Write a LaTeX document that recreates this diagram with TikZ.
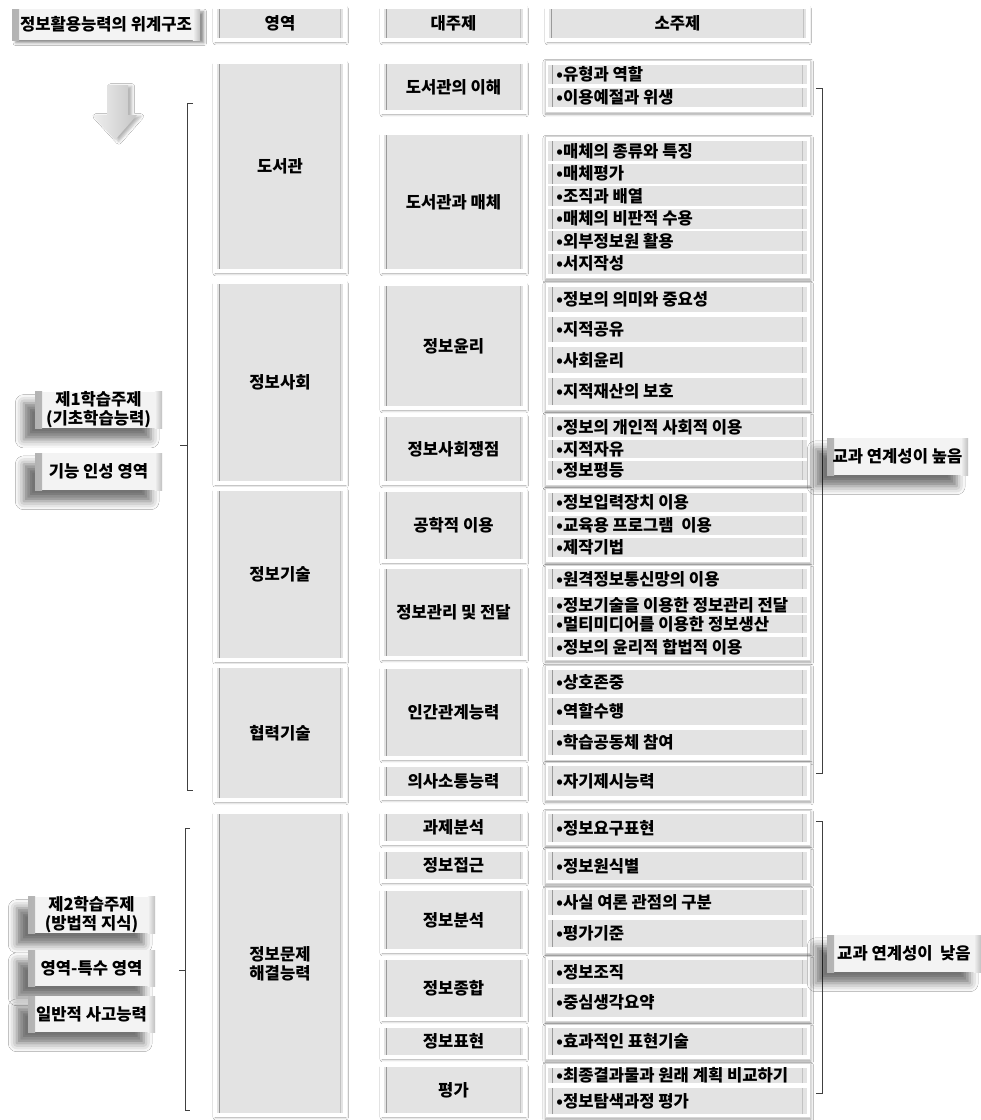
\documentclass[tikz,border=0pt]{standalone}
\usepackage{fontspec}
\setmainfont{Noto Sans CJK KR}
\usepackage{tikz}
\definecolor{boxgray}{HTML}{E3E3E3}
\definecolor{edgegray}{HTML}{9A9A9A}
\definecolor{framegray}{HTML}{D6D6D6}
\definecolor{btngray}{HTML}{F3F3F3}
\usetikzlibrary{shadows.blur}
\tikzset{
  label font/.style={font=\fontsize{11.8}{13.5}\selectfont\bfseries},
  span/.style n args={4}{at={({(#1+#3)/2},{(#2+#4)/2})}, minimum width={(#3-#1)*0.025cm}, minimum height={(#4-#2)*0.025cm}},
  bevel/.style={fill=boxgray, inner sep=0pt, label font,
    path picture={
      \draw[edgegray, line width=0.9pt] ([xshift=3pt]path picture bounding box.south west) -- ([xshift=3pt]path picture bounding box.north west);
      \draw[edgegray!60, line width=0.9pt] ([xshift=-3pt]path picture bounding box.south east) -- ([xshift=-3pt]path picture bounding box.north east);}},
  cell/.style={bevel, draw=framegray, double=white, double distance=2.6pt, line width=0.3pt,
    blur shadow={shadow xshift=0.5pt, shadow yshift=-1.5pt, shadow blur radius=2pt, shadow opacity=40}},
  group/.style={fill=white, draw=framegray, line width=0.3pt, inner sep=0pt,
    blur shadow={shadow xshift=0.5pt, shadow yshift=-1.5pt, shadow blur radius=2pt, shadow opacity=40}},
  item/.style={bevel},
  itemtext/.style={inner sep=0pt, label font},
  button/.style={fill=btngray, inner sep=0pt, label font,
    path picture={
      \shade[left color=gray!60, right color=btngray] (path picture bounding box.south west) rectangle ([xshift=5pt]path picture bounding box.north west);
      \shade[left color=btngray, right color=gray!50] ([xshift=-5pt]path picture bounding box.south east) rectangle (path picture bounding box.north east);}},
  lifted/.style={blur shadow={shadow xshift=-8pt, shadow yshift=-8pt, shadow blur radius=6pt, shadow opacity=55}},
  bracket/.style={draw=black!75, line width=0.6pt}
}

\begin{document}
\begin{tikzpicture}[x=0.025cm, y=-0.025cm]
    \path[use as bounding box, fill=white] (0,0) rectangle (981,1120);

    % Header row
    \node[button, blur shadow={shadow yshift=-2pt, shadow blur radius=2pt, shadow opacity=45}, span={12}{9}{200}{40}] (title) {정보활용능력의 위계구조};
    \node[cell, span={215}{7}{345}{40}] (hArea) {영역};
    \node[cell, span={382}{7}{525}{40}] (hTopic) {대주제};
    \node[cell, span={547}{7}{808}{40}] (hSub) {소주제};

    % Down arrow
    \shade[left color=gray!12, right color=gray!45, blur shadow={shadow yshift=-1pt, shadow blur radius=2pt, shadow opacity=30}]
        (107,85) -- (128,85) -- (128,115) -- (137,115) -- (115,140) -- (92,115) -- (107,115) -- cycle;

    % Area column
    \foreach \ya/\yb/\txt [count=\i] in {62/271/도서관, 282/483/정보사회, 489/660/정보기술, 666/800/협력기술}
        \node[cell, span={215}{\ya}{345}{\yb}] (area\i) {\txt};
    \node[cell, align=center, span={215}{812}{345}{1115}] (area5) {정보문제\\해결능력};

    % Main topic column
    \foreach \ya/\yb/\txt [count=\i] in {62/112/도서관의 이해, 133/271/도서관과 매체, 284/408/정보윤리, 415/483/정보사회쟁점,
        490/561/공학적 이용, 567/658/정보관리 및 전달, 667/758/인간관계능력, 765/798/의사소통능력,
        812/843/과제분석, 850/881/정보접근, 889/951/정보분석, 958/1019/정보종합, 1026/1057/정보표현, 1065/1115/평가}
        \node[cell, span={382}{\ya}{525}{\yb}] (topic\i) {\txt};

    % Sub topic frames
    \foreach \ya/\yb [count=\i] in {60/112, 136/278, 282/410, 413/485, 488/562, 565/660, 665/760, 762/800,
        810/845, 848/883, 887/953, 956/1021, 1024/1059, 1063/1117}
        \node[group, span={545}{\ya}{810}{\yb}] (grp\i) {};

    % Sub topic bars
    \foreach \ya/\yb/\txt [count=\i] in {65/84/•유형과 역할, 88/107/•이용예절과 위생,
        141/161/•매체의 종류와 특징, 163.5/183.5/•매체평가, 186/206/•조직과 배열, 208.5/228.5/•매체의 비판적 수용, 231/251/•외부정보원 활용, 253.5/273.5/•서지작성,
        287/312/•정보의 의미와 중요성, 317/342/•지적공유, 347/373/•사회윤리, 378/405/•지적재산의 보호,
        417/437/•정보의 개인적 사회적 이용, 440/458/•지적자유, 461/480/•정보평등,
        493/512/•정보입력장치 이용, 516/535/•교육용 프로그램~ 이용, 538/557/•제작기법,
        569/589/•원격정보통신망의 이용, 597/613/•정보기술을 이용한 정보관리 전달, 615/633/•멀티미디어를 이용한 정보생산, 637/657/•정보의 윤리적 합법적 이용,
        670/694/•상호존중, 698/725/•역할수행, 730/755/•학습공동체 참여,
        766/796/•자기제시능력,
        814/842/•정보요구표현, 852/880/•정보원식별,
        890/915/•사실 여론 관점의 구분, 920/947/•평가기준,
        960/984/•정보조직, 988/1017/•중심생각요약,
        1028/1055/•효과적인 표현기술,
        1068/1083/•최종결과물과 원래 계획 비교하기, 1088/1114/•정보탐색과정 평가}{
        \node[item, span={548}{\ya}{807}{\yb}] (sub\i) {};
        \node[itemtext, anchor=west] (subtxt\i) at ([xshift=6pt]sub\i.west) {\txt};
    }

    % Brackets
    \coordinate (lb1top) at (193,103);
    \coordinate (lb1bot) at (193,790);
    \coordinate (lb2top) at (190,828);
    \coordinate (lb2bot) at (190,1110);
    \coordinate (rb1top) at (816,88);
    \coordinate (rb1bot) at (816,773);
    \coordinate (rb2top) at (816,821);
    \coordinate (rb2bot) at (816,1093);
    \draw[bracket] (lb1top) -- ++(-6,0) |- (lb1bot);
    \draw[bracket] (187,445) -- ++(-7,0);
    \draw[bracket] (lb2top) -- ++(-5,0) |- (lb2bot);
    \draw[bracket] (185,970) -- ++(-6,0);
    \draw[bracket] (rb1top) -- ++(6,0) |- (rb1bot);
    \draw[bracket] (rb2top) -- ++(6,0) |- (rb2bot);

    % Left labels
    \node[button, lifted, align=center, span={35}{392}{162}{428}] (first) {제1학습주제\\(기초학습능력)};
    \node[button, lifted, span={35}{453}{162}{490}] (skill) {기능 인성 영역};
    \node[button, lifted, align=center, span={28}{897}{155}{933}] (second) {제2학습주제\\(방법적 지식)};
    \node[button, lifted, span={28}{950}{155}{986}] (domain) {영역-특수 영역};
    \node[button, lifted, span={28}{996}{155}{1032}] (general) {일반적 사고능력};

    % Right labels
    \node[button, lifted, span={827}{438}{968}{475}] (high) {교과 연계성이 높음};
    \node[button, lifted, span={827}{935}{981}{972}] (low) {교과 연계성이~ 낮음};
\end{tikzpicture}
\end{document}
